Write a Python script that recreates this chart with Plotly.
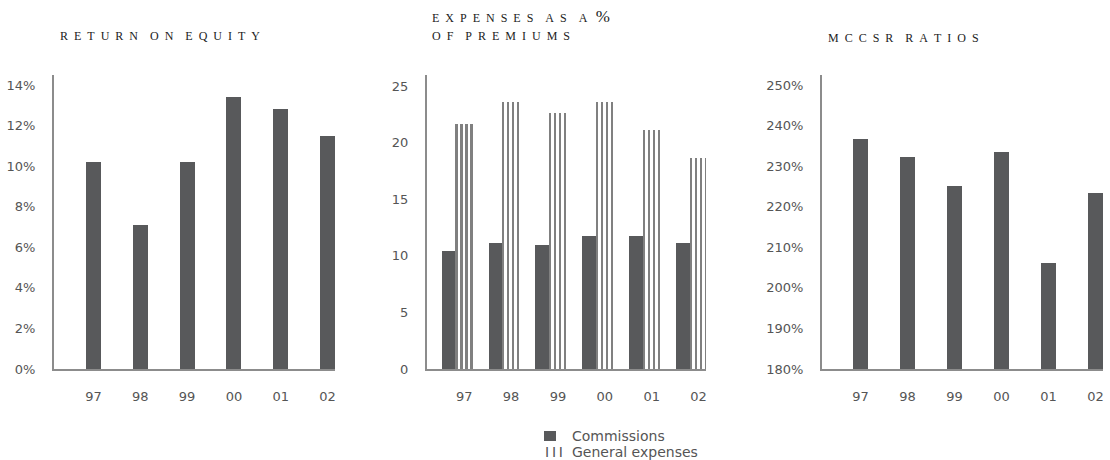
import plotly.graph_objects as go

# ---- data ----
years = ["97", "98", "99", "00", "01", "02"]
roe = [10.2, 7.1, 10.2, 13.4, 12.8, 11.5]                    # return on equity, %
commissions = [10.4, 11.1, 11.0, 11.8, 11.8, 11.1]           # % of premiums
general_expenses = [21.7, 23.6, 22.6, 23.6, 21.1, 18.7]      # % of premiums
mccsr = [236.7, 232.2, 225.1, 233.5, 206.1, 223.3]           # MCCSR ratio, %

roe_ticks = [0, 2, 4, 6, 8, 10, 12, 14]
exp_ticks = [0, 5, 10, 15, 20, 25]
mccsr_ticks = [180, 190, 200, 210, 220, 230, 240, 250]

W, H = 1110, 460
BAR = "#58595b"
LINE = "#808080"
AXIS = "#8c8c8c"
TICK_FONT = dict(family="DejaVu Sans", size=13, color="#555555")
TITLE_FONT = dict(family="Liberation Serif", size=12, color="#222222")
LEGEND_FONT = dict(family="DejaVu Sans", size=14, color="#555555")

x_pos = list(range(len(years)))


def spaced(text):
    """Letter-spaced caps: en space between letters, em space between words."""
    words = text.split(" ")
    return "\u2003".join("\u2002".join(w) for w in words)


def py(px):
    return 1 - px / H


fig = go.Figure()

# Return on equity
fig.add_trace(go.Bar(x=x_pos, y=roe, width=0.32, marker=dict(color=BAR, line=dict(width=0)),
                     xaxis="x", yaxis="y", showlegend=False))

# Expenses: commissions bar + general expenses drawn as four thin rules
fig.add_trace(go.Bar(x=x_pos, y=commissions, width=0.32, offset=-0.48,
                     marker=dict(color=BAR, line=dict(width=0)),
                     xaxis="x2", yaxis="y2", showlegend=False))
for c in (-0.16, -0.053, 0.053, 0.16):
    fig.add_trace(go.Bar(x=x_pos, y=general_expenses, width=0.036, offset=c - 0.018,
                         marker=dict(color=LINE, line=dict(width=0)),
                         xaxis="x2", yaxis="y2", showlegend=False))

# MCCSR ratios
fig.add_trace(go.Bar(x=x_pos, y=mccsr, width=0.32, marker=dict(color=BAR, line=dict(width=0)),
                     xaxis="x3", yaxis="y3", showlegend=False))

y_dom = [py(369), py(75)]


def xaxis(d0, d1, left_pad, anchor):
    return dict(domain=[d0 / W, d1 / W], range=[-left_pad, 5.16], tickvals=x_pos, ticktext=years,
                showline=True, linecolor=AXIS, linewidth=1.5, showgrid=False, zeroline=False,
                ticks="", tickfont=TICK_FONT, ticklabelstandoff=15, anchor=anchor,
                automargin=False, fixedrange=True)


def yaxis(rng, ticks, suffix, anchor):
    return dict(domain=y_dom, range=rng, tickvals=ticks, ticktext=[f"{t}{suffix}" for t in ticks],
                showline=True, linecolor=AXIS, linewidth=2, showgrid=False, zeroline=False,
                ticks="", tickfont=TICK_FONT, ticklabelstandoff=14, anchor=anchor,
                automargin=False, fixedrange=True)


fig.update_layout(
    width=W, height=H, autosize=False,
    margin=dict(l=0, r=0, t=0, b=0, pad=0, autoexpand=False),
    paper_bgcolor="white", plot_bgcolor="white",
    barmode="overlay", bargap=0,
    xaxis=xaxis(54, 335, 0.844, "y"),
    yaxis=yaxis([0, 14.5], roe_ticks, "%", "x"),
    xaxis2=xaxis(427, 706, 0.795, "y2"),
    yaxis2=yaxis([0, 26], exp_ticks, "", "x2"),
    xaxis3=xaxis(822, 1103, 0.818, "y3"),
    yaxis3=yaxis([180, 252.5], mccsr_ticks, "%", "x3"),
)

# chart titles
titles = [
    (58, 36, spaced("RETURN ON EQUITY")),
    (430, 16, spaced("EXPENSES AS A") + "<span style='font-size:17px'>\u2002%</span>"),
    (430, 36, spaced("OF PREMIUMS")),
    (826, 38, spaced("MCCSR RATIOS")),
]
for x, y, t in titles:
    fig.add_annotation(x=x / W, y=py(y), xref="paper", yref="paper", text=t, showarrow=False,
                       xanchor="left", yanchor="middle", font=TITLE_FONT)

# legend for the expenses chart
fig.add_shape(type="rect", xref="paper", yref="paper", x0=544 / W, x1=556 / W,
              y0=py(441), y1=py(431), fillcolor=BAR, line=dict(width=0))
fig.add_annotation(x=570 / W, y=py(436), xref="paper", yref="paper", text="Commissions",
                   showarrow=False, xanchor="left", yanchor="middle", font=LEGEND_FONT)
fig.add_annotation(x=543 / W, y=py(452), xref="paper", yref="paper", text="I\u2009I\u2009I",
                   showarrow=False, xanchor="left", yanchor="middle", font=LEGEND_FONT)
fig.add_annotation(x=570 / W, y=py(452), xref="paper", yref="paper", text="General expenses",
                   showarrow=False, xanchor="left", yanchor="middle", font=LEGEND_FONT)

fig.write_html("out.html", config={"displayModeBar": False, "responsive": False},
               default_width="1110px", default_height="460px")
